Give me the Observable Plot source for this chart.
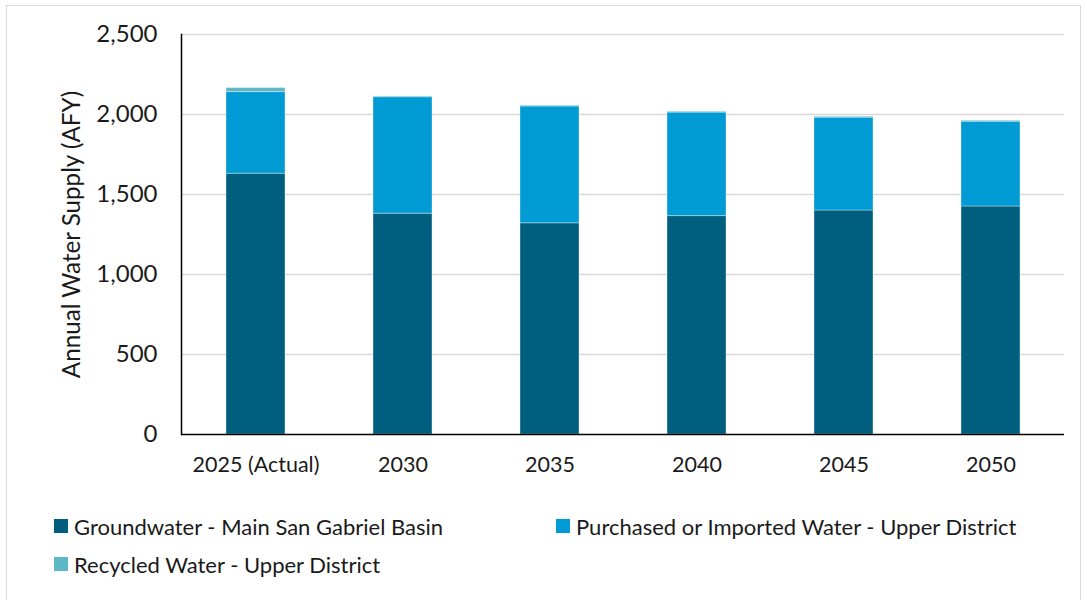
<!DOCTYPE html>
<html>
<head>
<meta charset="utf-8">
<script src="https://cdn.jsdelivr.net/npm/d3@7"></script>
<script src="https://cdn.jsdelivr.net/npm/@observablehq/plot@0.6"></script>
<style>
  html, body { margin: 0; padding: 0; background: #fff; }
  #wrap { position: relative; width: 1087px; height: 600px; font-family: Lato, "Noto Sans", sans-serif; }
  #frame { position: absolute; left: 6px; top: 5px; width: 1075px; height: 600px; border: 1.5px solid #d9d9d9; box-sizing: border-box; }
  #chart { position: absolute; left: 0; top: 0; }
  .legend { position: absolute; font-size: 22px; color: #1a1a1a; display: flex; align-items: center; white-space: nowrap; }
  .sw { width: 14px; height: 14px; margin-right: 6px; display: inline-block; }
</style>
</head>
<body>
<div id="wrap">
  <div id="frame"></div>
  <div id="chart"></div>
  <div id="legend"></div>
</div>
<script>
const years = ["2025 (Actual)", "2030", "2035", "2040", "2045", "2050"];
const seriesNames = [
  "Groundwater - Main San Gabriel Basin",
  "Purchased or Imported Water - Upper District",
  "Recycled Water - Upper District"
];
const groundwater = [1630, 1380, 1320, 1365, 1400, 1425];
const purchased = [510, 728, 730, 647, 580, 530];
const recycled = [25, 5, 5, 5, 6, 6];
const colors = ["#005f7f", "#009bd4", "#5bb8c4"];
const yTicks = [0, 500, 1000, 1500, 2000, 2500];

const data = [];
years.forEach((y, i) => {
  data.push({year: y, series: seriesNames[0], value: groundwater[i]});
  data.push({year: y, series: seriesNames[1], value: purchased[i]});
  data.push({year: y, series: seriesNames[2], value: recycled[i]});
});

const chart = Plot.plot({
  width: 1087,
  height: 490,
  marginLeft: 181,
  marginRight: 23,
  marginTop: 34,
  marginBottom: 56,
  style: {fontFamily: "Lato, 'Noto Sans', sans-serif", fontSize: "21px", color: "#1a1a1a", background: "transparent"},
  x: {domain: years, paddingInner: 0.6, paddingOuter: 0.3, label: null},
  y: {domain: [0, 2500], ticks: yTicks, label: null},
  color: {domain: seriesNames, range: colors},
  marks: [
    Plot.gridY(yTicks.filter(d => d > 0), {stroke: "#d9d9d9", strokeOpacity: 1, strokeWidth: 1.5}),
    Plot.barY(data, {x: "year", y: "value", fill: "series", order: seriesNames, stroke: "#ffffff", strokeOpacity: 0.35, strokeWidth: 1}),
    Plot.axisY({ticks: yTicks, tickSize: 0, tickPadding: 24, tickFormat: d3.format(","), label: null, fontSize: 24}),
    Plot.axisX({tickSize: 0, tickPadding: 22, label: null, fontSize: 21.5}),
    Plot.ruleY([0], {stroke: "#000", strokeWidth: 1.5}),
    Plot.frame({anchor: "left", stroke: "#000", strokeWidth: 1.5}),
    Plot.text(["Annual Water Supply (AFY)"], {frameAnchor: "left", textAnchor: "middle", dx: -109, rotate: -90, fontSize: 24.2, fill: "#1a1a1a"})
  ]
});
document.getElementById("chart").appendChild(chart);

const leg = document.getElementById("legend");
const pos = [[54, 526], [556, 526], [54, 564]];
seriesNames.forEach((name, i) => {
  const d = document.createElement("div");
  d.className = "legend";
  d.style.left = pos[i][0] + "px";
  d.style.top = (pos[i][1] - 13) + "px";
  d.style.height = "26px";
  const s = document.createElement("span");
  s.className = "sw";
  s.style.background = colors[i];
  d.appendChild(s);
  d.appendChild(document.createTextNode(name));
  leg.appendChild(d);
});
</script>
</body>
</html>
